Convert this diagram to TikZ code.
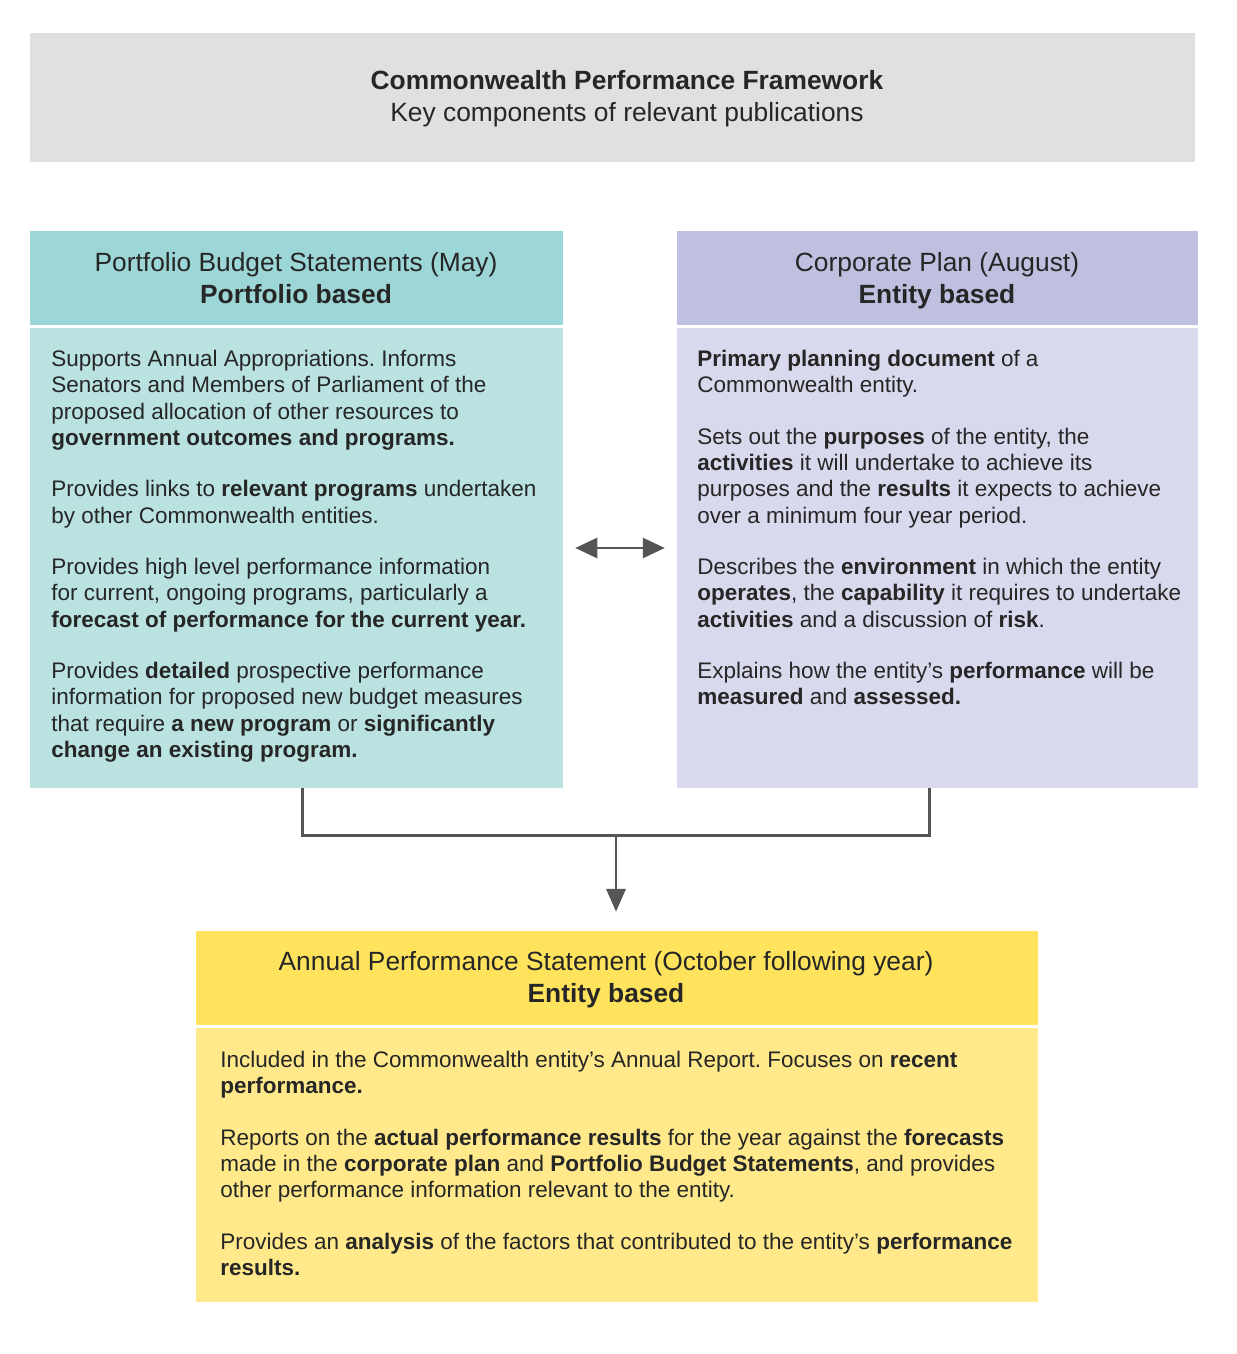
\documentclass[tikz,border=0pt]{standalone}
\usepackage{fontspec}
\setmainfont{Liberation Sans}
\usetikzlibrary{positioning, fit, calc, arrows.meta}
\frenchspacing

\definecolor{txt}{HTML}{262626}
\definecolor{arr}{HTML}{555555}
\definecolor{cpfgray}{HTML}{E0E0DE}
\definecolor{pbshead}{HTML}{9DD6D6}
\definecolor{pbsfill}{HTML}{B9E2E1}
\definecolor{cphead}{HTML}{BFBFE0}
\definecolor{cpfill}{HTML}{D9D9EE}
\definecolor{apshead}{HTML}{FFE35C}
\definecolor{apsfill}{HTML}{FFE98B}

\begin{document}
\begin{tikzpicture}[x=0.02cm, y=-0.02cm,
box/.style={rectangle, inner sep=0pt, draw=none},
headtext/.style={align=center, font=\fontsize{15}{18}\selectfont, text=txt, inner sep=0pt, anchor=north},
bodytext/.style={align=left, font=\fontsize{12.8}{14.9}\selectfont, text=txt, inner sep=0pt, anchor=north west},
link/.style={draw=arr, line width=1.4pt},
tip/.style={-{Triangle[length=13pt, width=11pt]}, link},
dtip/.style={{Triangle[length=12.5pt, width=11.5pt]}-{Triangle[length=12.5pt, width=11.5pt]}, link, line width=1.2pt},
]
\useasboundingbox (0,0) rectangle (1236,1354);

%Nodes
\node [box, fill=cpfgray, fit={(30,33) (1195,162)}] (cpf) {};
\node [headtext] (cpftitle) at (627,70) {\textbf{Commonwealth Performance Framework}\\Key components of relevant publications};

\node [box, fill=pbshead, fit={(30,231) (563,325)}] (pbshead) {};
\node [box, fill=pbsfill, fit={(30,328) (563,788)}] (pbsbody) {};
\node [headtext] (pbstitle) at (296,252) {Portfolio Budget Statements (May)\\\textbf{Portfolio based}};
\node [bodytext] (pbstext) at (51,350) {Supports Annual Appropriations. Informs\\
Senators and Members of Parliament of the\\
proposed allocation of other resources to\\
\textbf{government outcomes and programs.}\\[14.5pt]
Provides links to \textbf{relevant programs} undertaken\\
by other Commonwealth entities.\\[14.5pt]
Provides high level performance information\\
for current, ongoing programs, particularly a\\
\textbf{forecast of performance for the current year.}\\[14.5pt]
Provides \textbf{detailed} prospective performance\\
information for proposed new budget measures\\
that require \textbf{a new program} or \textbf{significantly}\\
\textbf{change an existing program.}};

\node [box, fill=cphead, fit={(677,231) (1198,325)}] (cphead) {};
\node [box, fill=cpfill, fit={(677,328) (1198,788)}] (cpbody) {};
\node [headtext] (cptitle) at (937,252) {Corporate Plan (August)\\\textbf{Entity based}};
\node [bodytext] (cptext) at (697,350) {\textbf{Primary planning document} of a\\
Commonwealth entity.\\[14.5pt]
Sets out the \textbf{purposes} of the entity, the\\
\textbf{activities} it will undertake to achieve its\\
purposes and the \textbf{results} it expects to achieve\\
over a minimum four year period.\\[14.5pt]
Describes the \textbf{environment} in which the entity\\
\textbf{operates}, the \textbf{capability} it requires to undertake\\
\textbf{activities} and a discussion of \textbf{risk}.\\[14.5pt]
Explains how the entity’s \textbf{performance} will be\\
\textbf{measured} and \textbf{assessed.}};

\node [box, fill=apshead, fit={(196,931) (1038,1025)}] (apshead) {};
\node [box, fill=apsfill, fit={(196,1028) (1038,1302)}] (apsbody) {};
\node [headtext] (apstitle) at (606,951) {Annual Performance Statement (October following year)\\\textbf{Entity based}};
\node [bodytext] (apstext) at (220,1051) {Included in the Commonwealth entity’s Annual Report. Focuses on \textbf{recent}\\
\textbf{performance.}\\[14.5pt]
Reports on the \textbf{actual performance results} for the year against the \textbf{forecasts}\\
made in the \textbf{corporate plan} and \textbf{Portfolio Budget Statements}, and provides\\
other performance information relevant to the entity.\\[14.5pt]
Provides an \textbf{analysis} of the factors that contributed to the entity’s \textbf{performance}\\
\textbf{results.}};

% Paths
\coordinate (pbsout) at ([xshift=6*0.02cm]pbsbody.south);
\coordinate (cpout) at ([xshift=-8*0.02cm]cpbody.south);
\coordinate (join) at ($(pbsout)!0.5!(cpout) + (0,47)$);
\draw [link] (pbsout) |- (join) -| (cpout);
\draw [tip, shorten >=10.8pt] (join) -- (join |- apshead.north);
\draw [dtip, shorten <=6.8pt, shorten >=6.8pt] ([yshift=10*0.02cm]pbsbody.east) -- ([yshift=10*0.02cm]pbsbody.east -| cpbody.west);
\end{tikzpicture}
\end{document}
